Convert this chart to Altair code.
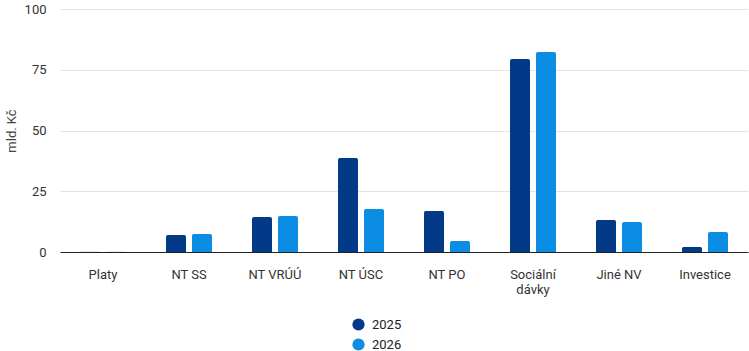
import altair as alt
import pandas as pd

categories = ["Platy", "NT SS", "NT VRÚÚ", "NT ÚSC", "NT PO", "Sociální dávky", "Jiné NV", "Investice"]
years = ["2025", "2026"]
v2025 = [0.2, 7.0, 14.4, 38.7, 16.9, 79.4, 13.2, 2.1]
v2026 = [0.2, 7.4, 14.8, 17.7, 4.5, 82.3, 12.3, 8.2]

rows = []
for c, a, b in zip(categories, v2025, v2026):
    rows.append({"kat": c, "rok": "2025", "hodnota": a})
    rows.append({"kat": c, "rok": "2026", "hodnota": b})
df = pd.DataFrame(rows)

font = "Roboto"
chart = alt.Chart(df).mark_bar(cornerRadiusTopLeft=2, cornerRadiusTopRight=2).encode(
    x=alt.X("kat:N", sort=categories, title=None,
            scale=alt.Scale(paddingInner=0, paddingOuter=0),
            axis=alt.Axis(labelAngle=0, ticks=False, domainColor="#222", domainWidth=1.2,
                          labelPadding=16, labelFontSize=13, labelColor="#333", labelFont=font,
                          labelExpr="datum.label == 'Sociální dávky' ? ['Sociální', 'dávky'] : datum.label")),
    xOffset=alt.XOffset("rok:N", scale=alt.Scale(paddingInner=0.23, paddingOuter=0.77)),
    y=alt.Y("hodnota:Q", title="mld. Kč", scale=alt.Scale(domain=[0, 100]),
            axis=alt.Axis(values=[0, 25, 50, 75, 100], domain=False, ticks=False, labelPadding=14,
                          labelFontSize=13, labelColor="#333", labelFont=font,
                          titleFont=font, titleFontSize=13, titleColor="#444", titleFontWeight="normal",
                          titlePadding=6, gridColor="#e2e2e2")),
    color=alt.Color("rok:N", scale=alt.Scale(domain=years, range=["#023a87", "#0b8de3"]),
                    legend=alt.Legend(title=None, orient="none", legendX=292, legendY=309,
                                      direction="vertical", symbolType="circle", symbolSize=150,
                                      symbolStrokeWidth=0, rowPadding=6, padding=0, labelOffset=7,
                                      labelFont=font, labelFontSize=13, labelColor="#222")),
).properties(
    width=688, height=243,
    autosize=alt.AutoSizeParams(type="none"),
    padding={"left": 60, "top": 9, "right": 1, "bottom": 99},
).configure_view(stroke=None)

chart.save("out.html", embed_options={"renderer": "svg", "actions": False})
